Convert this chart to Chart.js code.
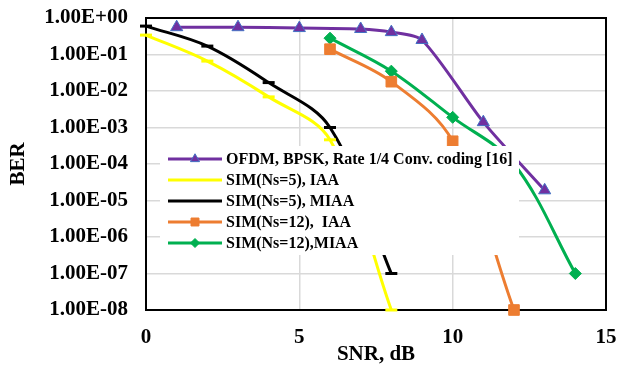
<!DOCTYPE html>
<html>
<head>
<meta charset="utf-8">
<script src="https://cdn.jsdelivr.net/npm/chart.js@4.4.1/dist/chart.umd.min.js"></script>
<style>
  html, body { margin: 0; padding: 0; background: #fff; }
  #wrap { width: 617px; height: 367px; }
</style>
</head>
<body>
<div id="wrap"><canvas id="berChart" width="617" height="367"></canvas></div>
<script>
// SNR (dB) / BER values
const ofdmSnr = [1, 3, 5, 7, 8, 9, 11, 13];
const ofdmBer = [0.56, 0.56, 0.53, 0.5, 0.41, 0.25, 1.4e-3, 1.9e-5];

const sim5Snr = [0, 2, 4, 6, 8];
const sim5IaaBer = [0.34, 0.066, 6.9e-3, 4.6e-4, 1e-8];
const sim5MiaaBer = [0.6, 0.17, 0.017, 1e-3, 1e-7];

const sim12IaaSnr = [6, 8, 10, 12];
const sim12IaaBer = [0.14, 0.018, 4.2e-4, 1e-8];
const sim12MiaaSnr = [6, 8, 10, 12, 14];
const sim12MiaaBer = [0.28, 0.035, 1.9e-3, 1e-4, 1e-7];

const seriesNames = [
    'OFDM, BPSK, Rate 1/4 Conv. coding [16]',
    'SIM(Ns=5), IAA',
    'SIM(Ns=5), MIAA',
    'SIM(Ns=12),  IAA',
    'SIM(Ns=12),MIAA'
];

const yTickValues = [1, 1e-1, 1e-2, 1e-3, 1e-4, 1e-5, 1e-6, 1e-7, 1e-8];
const yTickLabels = ['1.00E+00', '1.00E-01', '1.00E-02', '1.00E-03', '1.00E-04',
                     '1.00E-05', '1.00E-06', '1.00E-07', '1.00E-08'];
const xTickValues = [0, 5, 10, 15];

function toPoints(xs, ys) {
    return xs.map((x, i) => ({ x: x, y: ys[i] }));
}

Chart.defaults.font.family = '"Liberation Serif", "Times New Roman", serif';
Chart.defaults.color = '#000';

const serif = '"Liberation Serif", "Times New Roman", serif';

// frame round the plot area (drawn under the series)
const framePlugin = {
    id: 'frame',
    beforeDatasetsDraw(chart) {
        const { ctx, chartArea: a } = chart;
        ctx.save();
        ctx.strokeStyle = '#000';
        ctx.lineWidth = 2;
        ctx.strokeRect(a.left, a.top, a.right - a.left, a.bottom - a.top);
        ctx.restore();
    }
};

// Excel-like legend: line sample with marker in the middle, white box inside the plot
const legendPlugin = {
    id: 'excelLegend',
    afterDatasetsDraw(chart) {
        const ctx = chart.ctx;
        const boxL = 160, boxT = 146, boxR = 519, boxB = 255;
        const rowY0 = 159, rowH = 21, lineX0 = 168, lineX1 = 222, textX = 226;
        ctx.save();
        ctx.fillStyle = '#fff';
        ctx.fillRect(boxL, boxT, boxR - boxL, boxB - boxT);
        chart.data.datasets.forEach((ds, i) => {
            const y = rowY0 + i * rowH;
            ctx.strokeStyle = ds.borderColor;
            ctx.lineWidth = ds.borderWidth;
            ctx.lineCap = 'butt';
            ctx.beginPath();
            ctx.moveTo(lineX0, y);
            ctx.lineTo(lineX1, y);
            ctx.stroke();
            if (ds.pointStyle !== 'line') {
                ctx.fillStyle = ds.pointBackgroundColor;
                ctx.strokeStyle = ds.pointBorderColor;
                ctx.lineWidth = ds.pointBorderWidth;
                Chart.helpers.drawPoint(ctx, {
                    pointStyle: ds.pointStyle,
                    radius: ds.pointRadius * 0.75,
                    borderWidth: ds.pointBorderWidth,
                    rotation: 0
                }, (lineX0 + lineX1) / 2, y);
            }
            ctx.fillStyle = '#000';
            ctx.font = 'bold 16px ' + serif;
            ctx.textAlign = 'left';
            ctx.textBaseline = 'middle';
            ctx.fillText(ds.label, textX, y + 1);
        });
        ctx.restore();
    }
};

const ctx = document.getElementById('berChart').getContext('2d');

new Chart(ctx, {
    type: 'line',
    data: {
        datasets: [{
            label: seriesNames[0],
            data: toPoints(ofdmSnr, ofdmBer),
            borderColor: '#7030A0',
            borderWidth: 3,
            pointStyle: 'triangle',
            pointRadius: 7,
            pointBackgroundColor: '#7030A0',
            pointBorderColor: '#4472C4',
            pointBorderWidth: 1,
            tension: 0.25
        }, {
            label: seriesNames[1],
            data: toPoints(sim5Snr, sim5IaaBer),
            borderColor: '#FFFF00',
            borderWidth: 3,
            pointStyle: 'line',
            pointRadius: 6,
            pointBackgroundColor: '#FFFF00',
            pointBorderColor: '#FFFF00',
            pointBorderWidth: 3
        }, {
            label: seriesNames[2],
            data: toPoints(sim5Snr, sim5MiaaBer),
            borderColor: '#000000',
            borderWidth: 3,
            pointStyle: 'line',
            pointRadius: 6,
            pointBackgroundColor: '#000000',
            pointBorderColor: '#000000',
            pointBorderWidth: 3
        }, {
            label: seriesNames[3],
            data: toPoints(sim12IaaSnr, sim12IaaBer),
            borderColor: '#ED7D31',
            borderWidth: 3,
            pointStyle: 'rect',
            pointRadius: 7.5,
            pointBackgroundColor: '#ED7D31',
            pointBorderColor: '#ED7D31',
            pointBorderWidth: 1
        }, {
            label: seriesNames[4],
            data: toPoints(sim12MiaaSnr, sim12MiaaBer),
            borderColor: '#00B050',
            borderWidth: 3,
            pointStyle: 'rectRot',
            pointRadius: 6,
            pointBackgroundColor: '#00B050',
            pointBorderColor: '#00B050',
            pointBorderWidth: 1
        }]
    },
    options: {
        responsive: false,
        animation: false,
        clip: false,
        elements: {
            line: { tension: 0.35, cubicInterpolationMode: 'default', capBezierPoints: true }
        },
        layout: { padding: { top: 18, right: 11, left: 0, bottom: 0 } },
        plugins: {
            legend: { display: false },
            tooltip: { enabled: false }
        },
        scales: {
            x: {
                type: 'linear',
                min: 0,
                max: 15,
                afterBuildTicks: (scale) => { scale.ticks = xTickValues.map(v => ({ value: v })); },
                afterFit: (scale) => {
                    scale.height = 57;
                    scale.paddingLeft = 0;
                    scale.paddingRight = 0;
                },
                grid: { color: '#D9D9D9', lineWidth: 1.5, drawTicks: false },
                border: { display: false },
                ticks: { padding: 15, font: { size: 21, weight: 'bold' } },
                title: {
                    display: true,
                    text: 'SNR, dB',
                    font: { size: 21, weight: 'bold' },
                    padding: { top: 0, bottom: 0 }
                }
            },
            y: {
                type: 'logarithmic',
                min: 1e-8,
                max: 1,
                afterBuildTicks: (scale) => { scale.ticks = yTickValues.map(v => ({ value: v })); },
                afterFit: (scale) => {
                    scale.width = 146;
                    scale.paddingTop = 0;
                    scale.paddingBottom = 0;
                },
                grid: { color: '#D9D9D9', lineWidth: 1.5, drawTicks: false },
                border: { display: false },
                ticks: {
                    padding: 18,
                    font: { size: 21, weight: 'bold' },
                    callback: function (value) {
                        const i = yTickValues.findIndex(v => Math.abs(Math.log10(v) - Math.log10(value)) < 1e-6);
                        return i >= 0 ? yTickLabels[i] : '';
                    }
                },
                title: {
                    display: true,
                    text: 'BER',
                    font: { size: 21, weight: 'bold' },
                    padding: { top: 6, bottom: 0 }
                }
            }
        }
    },
    plugins: [framePlugin, legendPlugin]
});
</script>
</body>
</html>
